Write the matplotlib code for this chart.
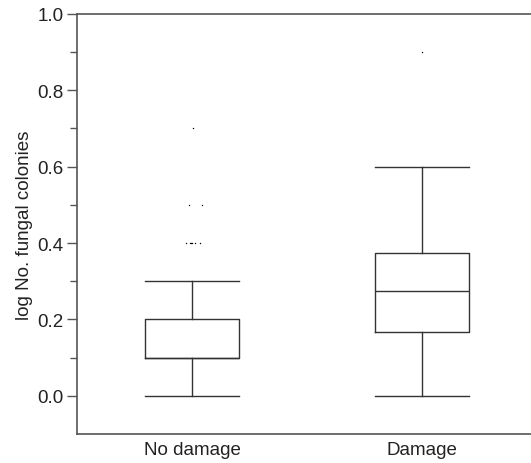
import matplotlib
matplotlib.use("Agg")
from matplotlib import pyplot as plt

# summary values
groups = ["No damage", "Damage"]
q1 = [0.10, 0.168]
med = [0.10, 0.275]
q3 = [0.20, 0.375]
whislo = [0.0, 0.0]
whishi = [0.30, 0.60]

# outliers: (group index, x offset, value)
out_group = [0, 0, 0, 0, 0, 0, 0, 0, 0, 1]
out_dx = [-0.03, -0.01, -0.005, 0.0, 0.012, 0.035, -0.015, 0.043, 0.004, 0.0]
out_val = [0.4, 0.4, 0.4, 0.4, 0.4, 0.4, 0.5, 0.5, 0.7, 0.9]

plt.rcParams['font.family'] = ['Liberation Sans', 'DejaVu Sans']

fig = plt.figure(figsize=(5.31, 4.64), dpi=100)
ax = fig.add_axes([0.145, 0.0625, 0.855, 0.9055])

stats = []
for i, g in enumerate(groups):
    stats.append(dict(label=g, q1=q1[i], med=med[i], q3=q3[i],
                      whislo=whislo[i], whishi=whishi[i], fliers=[]))

lc = '#333333'
ax.bxp(stats, positions=[1, 2], widths=0.41, showfliers=False,
       boxprops=dict(color=lc, lw=1.0),
       medianprops=dict(color=lc, lw=1.0),
       whiskerprops=dict(color=lc, lw=1.0),
       capprops=dict(color=lc, lw=1.0),
       capwidths=0.41)

xs = [out_group[k] + 1 + out_dx[k] for k in range(len(out_val))]
ax.scatter(xs, out_val, s=1.0, color='black', linewidths=0, zorder=3)

ax.set_xlim(0.497, 2.476)
ax.set_ylim(-0.1, 1.0)
ax.set_yticks([0.0, 0.2, 0.4, 0.6, 0.8, 1.0])
ax.set_yticks([0.1, 0.3, 0.5, 0.7, 0.9], minor=True)
ax.set_yticklabels(["0.0", "0.2", "0.4", "0.6", "0.8", "1.0"])
ax.set_xticks([1, 2])
ax.set_xticklabels(groups)
ax.tick_params(axis='x', length=0, labelsize=13.5, pad=5, colors='#222222')
ax.tick_params(axis='y', which='major', length=7, width=1, color='#555555',
               labelsize=13.5, pad=2.5, labelcolor='#222222')
ax.tick_params(axis='y', which='minor', length=5, width=1, color='#555555')
ax.set_ylabel("log No. fungal colonies", fontsize=13.5, color='#222222', labelpad=3)

for side in ['left', 'top', 'bottom']:
    ax.spines[side].set_color('#555555')
    ax.spines[side].set_linewidth(1.2)
ax.spines['right'].set_visible(False)

fig.savefig("out.png", dpi=100)
